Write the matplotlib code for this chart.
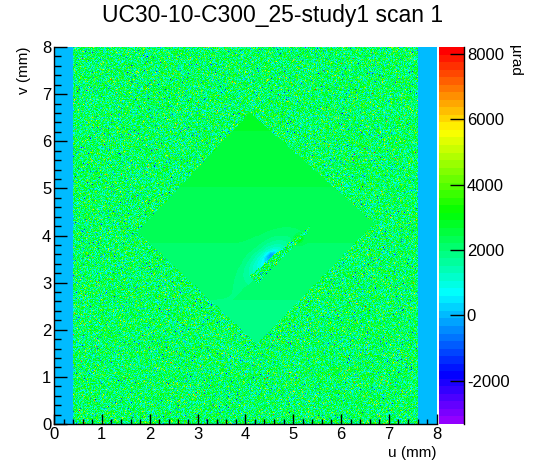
import colorsys
import numpy as np
import matplotlib
matplotlib.use("Agg")
import matplotlib.pyplot as plt
from matplotlib.colors import ListedColormap, BoundaryNorm
from matplotlib.path import Path
from matplotlib.ticker import MultipleLocator

plt.rcParams['font.family'] = ['Liberation Sans', 'DejaVu Sans']
plt.rcParams['axes.unicode_minus'] = False

# ---- values ----
title = "UC30-10-C300_25-study1 scan 1"
x_label = "u (mm)"
y_label = "v (mm)"
z_label = "µrad"
z_min, z_max = -3330, 8220
z_ticks = [-2000, 0, 2000, 4000, 6000, 8000]

n_bins = 400                 # 0.02 mm bins over 8 mm
strip_width = 0.4            # dead columns at both u edges
strip_value = 0.0
bg_mean = 2250.0             # speckled background
bg_sigma_core, bg_sigma_tail = 950.0, 1750.0
bg_tail_share = 0.12

# diamond (u, v) corners: top, right, bottom, left
diamond_u = [4.10, 6.69, 4.24, 1.745]
diamond_v = [6.61, 4.26, 1.70, 4.08]
diamond_top_value = 2750.0   # at v = 6.6
diamond_bottom_value = 1800.0  # at v = 1.7

# slot: noisy narrow strip inside the diamond
slot_start = (4.17, 3.06)
slot_end = (5.36, 4.18)
slot_halfwidth = [0.11, 0.08, 0.025]   # at start, middle, end
glow_depth = 1500.0
core_depth = 1000.0
spot_uv = (5.11, 3.93)
spot_height = 1800.0

# ---- build the map ----
edges = np.linspace(0, 8, n_bins + 1)
centres = 0.5 * (edges[:-1] + edges[1:])
U, V = np.meshgrid(centres, centres)

rng = np.random.default_rng(7)
sigma = np.where(rng.random(U.shape) < bg_tail_share, bg_sigma_tail, bg_sigma_core)
z = bg_mean + sigma * rng.standard_normal(U.shape)

poly = Path(np.column_stack([diamond_u, diamond_v]))
inside = poly.contains_points(np.column_stack([U.ravel(), V.ravel()])).reshape(U.shape)
slope = (diamond_top_value - diamond_bottom_value) / (6.6 - 1.7)
smooth = diamond_bottom_value + slope * (V - 1.7)

# slot coordinates
d = np.array(slot_end) - np.array(slot_start)
length = np.hypot(*d)
d = d / length
nrm = np.array([-d[1], d[0]])
t = (U - slot_start[0]) * d[0] + (V - slot_start[1]) * d[1]
s = (U - slot_start[0]) * nrm[0] + (V - slot_start[1]) * nrm[1]
halfw = np.interp(t, [0, length / 2, length], slot_halfwidth)
in_slot = (t > 0) & (t < length) & (np.abs(s) < halfw)

upper = s > 0
glow = glow_depth * np.exp(-0.5 * ((t - 0.5) / 0.36) ** 2) \
    * np.exp(-0.5 * ((s - 0.08) / 0.2) ** 2) * upper
core = core_depth * np.exp(-0.5 * ((t - 0.62) / 0.1) ** 2) \
    * np.exp(-0.5 * ((s - 0.12) / 0.05) ** 2) * upper
spot = spot_height * np.exp(-((U - spot_uv[0]) ** 2 + (V - spot_uv[1]) ** 2) / (2 * 0.05 ** 2))
smooth = smooth - glow - core + spot

z = np.where(inside & ~in_slot, smooth, z)
z[:, (centres < strip_width) | (centres > 8 - strip_width)] = strip_value

# ROOT "pretty" palette: 50 HLS colours from violet to red
colors = []
for i in range(49):
    hue = 280 - (i + 1) * 5.6
    colors.append(colorsys.hls_to_rgb(hue / 360.0, 0.5, 1.0))
colors.append((1.0, 0.0, 0.0))
cmap = ListedColormap(colors)
norm = BoundaryNorm(np.linspace(z_min, z_max, 51), 50, clip=True)

# ---- draw ----
fig = plt.figure(figsize=(5.46, 4.72), dpi=100)
ax = fig.add_axes([54 / 546, 48 / 472, 382.7 / 546, 377 / 472])
cax = fig.add_axes([439 / 546, 48 / 472, 25 / 546, 377 / 472])

im = ax.pcolormesh(edges, edges, z, cmap=cmap, norm=norm, shading='flat',
                   rasterized=True)
ax.set_xlim(0, 8)
ax.set_ylim(0, 8)

for side in ['top', 'right']:
    ax.spines[side].set_visible(False)
for side in ['left', 'bottom']:
    ax.spines[side].set_linewidth(1.0)
ax.xaxis.set_major_locator(MultipleLocator(1))
ax.yaxis.set_major_locator(MultipleLocator(1))
ax.xaxis.set_minor_locator(MultipleLocator(0.2))
ax.yaxis.set_minor_locator(MultipleLocator(0.2))
ax.tick_params(axis='x', which='major', direction='in', length=7.5, width=1,
               labelsize=12, pad=2)
ax.tick_params(axis='x', which='minor', direction='in', length=3.8, width=1)
ax.tick_params(axis='y', which='major', direction='in', length=9, width=1,
               labelsize=12, pad=2)
ax.tick_params(axis='y', which='minor', direction='in', length=5, width=1)

fig.text(436 / 546, 1 - 453 / 472, x_label, ha='right', va='center', fontsize=11)
fig.text(24 / 546, 1 - 47 / 472, y_label, ha='center', va='top', rotation=90,
         fontsize=11)
fig.suptitle(title, x=0.5, y=1 - 4 / 472, va='top', fontsize=16.5)

cb = fig.colorbar(im, cax=cax, ticks=z_ticks)
cb.outline.set_visible(False)
cax.plot([1, 1], [0, 1], transform=cax.transAxes, color='k', lw=1, clip_on=False)
cax.tick_params(direction='in', length=10, width=1, labelsize=12, pad=2)
cax.minorticks_off()
fig.text(515 / 546, 1 - 45 / 472, z_label, ha='center', va='top', rotation=-90,
         fontsize=11)

fig.savefig("out.png", dpi=100)
